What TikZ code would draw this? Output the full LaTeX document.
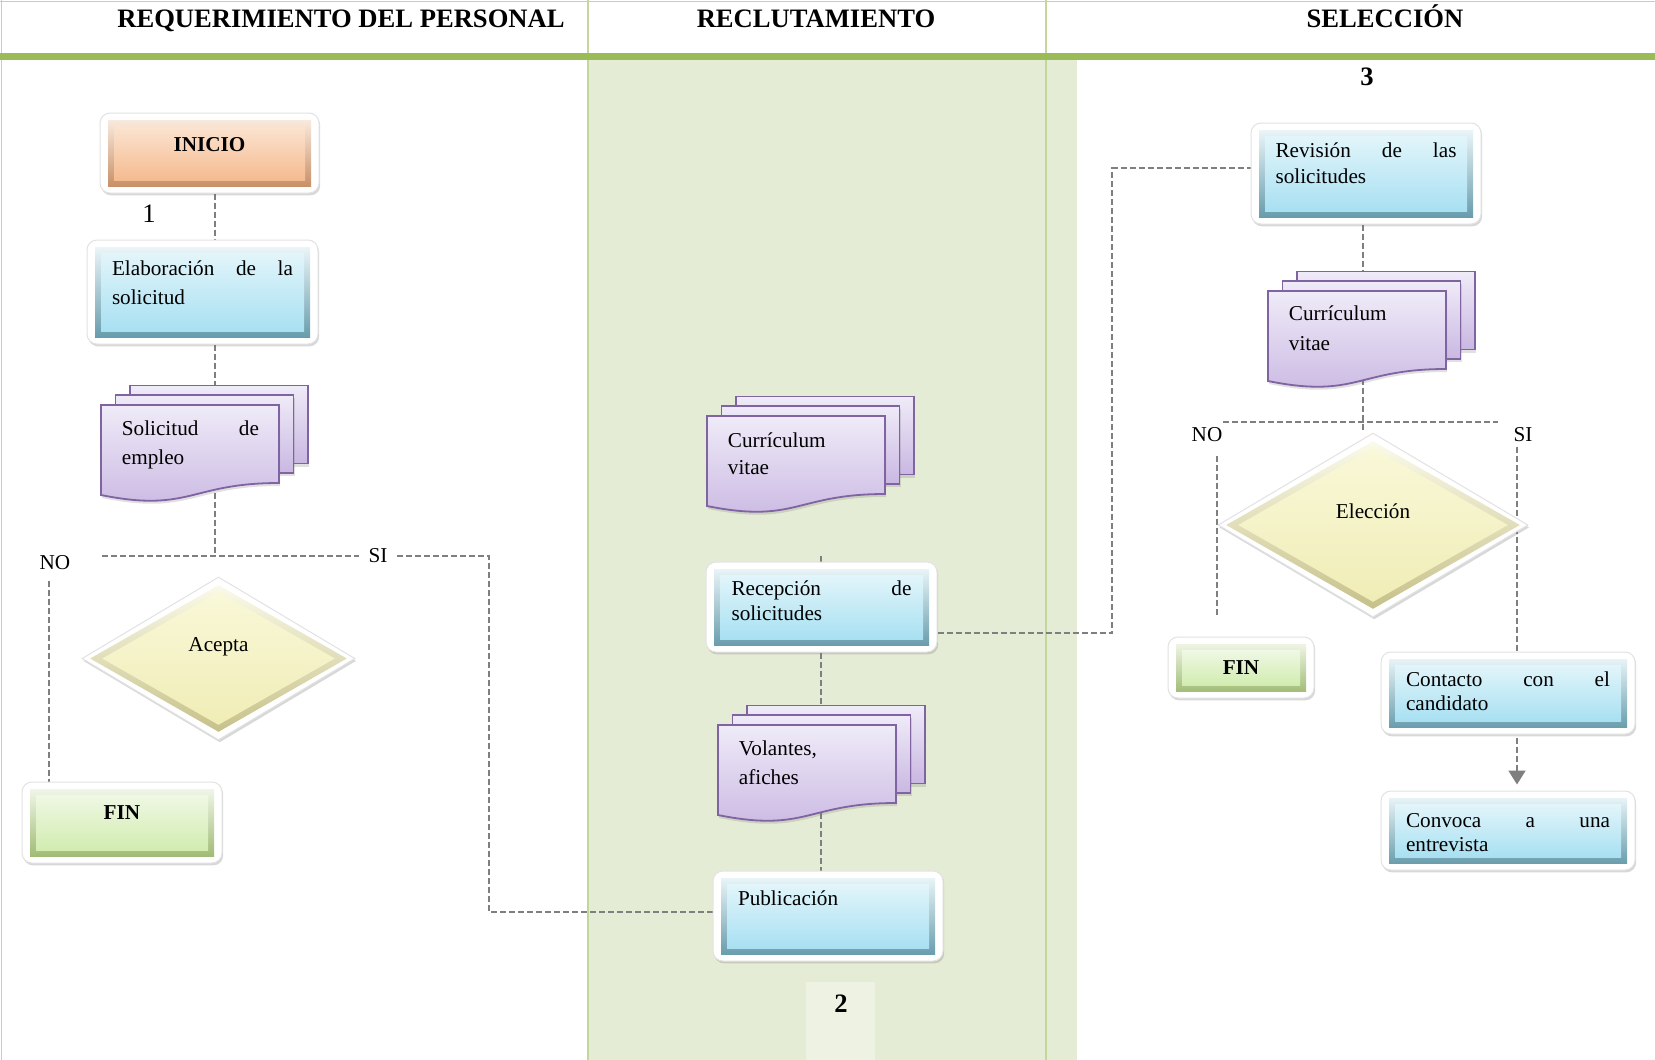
\documentclass[tikz,border=0pt]{standalone}
\usepackage{fontspec}
\setmainfont{Liberation Serif}
\usetikzlibrary{shapes.geometric,shadows,arrows.meta}

\definecolor{laneLine}{HTML}{C3D69B}
\definecolor{headBar}{HTML}{9BBB59}
\definecolor{laneFill}{HTML}{E5ECD6}
\definecolor{tagFill}{HTML}{EDF2E3}
\definecolor{linkGray}{HTML}{7F7F7F}
\definecolor{docLine}{HTML}{8064A2}
\definecolor{docTop}{HTML}{EFEBF8}
\definecolor{docBot}{HTML}{C9B7E2}
\definecolor{blueFaceT}{HTML}{E2F5FA}
\definecolor{blueFaceB}{HTML}{A8E0F2}
\definecolor{blueRimT}{HTML}{F4FCFE}
\definecolor{blueRimB}{HTML}{5E95A6}
\definecolor{orgFaceT}{HTML}{FBE3D0}
\definecolor{orgFaceB}{HTML}{F5BB90}
\definecolor{orgRimT}{HTML}{FEF3EA}
\definecolor{orgRimB}{HTML}{C2875C}
\definecolor{grnFaceT}{HTML}{EFF8E4}
\definecolor{grnFaceB}{HTML}{D2ECB0}
\definecolor{grnRimT}{HTML}{F9FCF3}
\definecolor{grnRimB}{HTML}{98B56A}
\definecolor{ylwFaceT}{HTML}{F9F8D8}
\definecolor{ylwFaceB}{HTML}{F0EDB6}
\definecolor{ylwRimT}{HTML}{FDFDEE}
\definecolor{ylwRimB}{HTML}{C4BE84}
\definecolor{frameEdge}{HTML}{E2E2E2}

\pgfdeclarelayer{lanes}
\pgfdeclarelayer{links}
\pgfsetlayers{lanes,links,main}

% text block inside a card: width, height, first baseline, line skip, text
\newcommand\cardtext[5]{\parbox[c][#2][t]{#1}{\fontsize{10.6pt}{#4}\selectfont\rule{0pt}{#3}#5}}

% stacked documents: name, x, y (front sheet top left), first baseline, line skip, text
\newcommand\multidoc[6]{%
  \begin{scope}[shift={(#2,#3)}]
    \draw[docsheet] (29,-19.5) rectangle (207,58.5);
    \draw[docsheet] (14.5,-9.75) rectangle (192.5,68.25);
    \draw[docsheet] (0,0) -- (178,0) -- (178,78) .. controls (89,78) and (89,108) .. (0,90) -- cycle;
    \coordinate (#1-top) at (89,-19.5);
    \node[anchor=north west, inner sep=0pt, minimum width=89pt, minimum height=39pt] (#1) at (0,0)
      {\parbox[c][39pt][t]{68.5pt}{\fontsize{10.6pt}{#5}\selectfont\rule{0pt}{#4}#6}};
  \end{scope}}

\begin{document}
\begin{tikzpicture}[x=0.5pt,y=-0.5pt,
  laneline/.style={draw=laneLine,line width=0.75pt},
  link/.style={draw=linkGray,line width=1pt,dash pattern=on 3pt off 1.5pt},
  tag/.style={inner sep=2pt,font=\fontsize{10.6pt}{12pt}\selectfont},
  stepnum/.style={inner sep=1pt,font=\fontsize{13.3pt}{15pt}\selectfont},
  boldtxt/.style={font=\bfseries\fontsize{10.6pt}{12pt}\selectfont},
  title/.style={anchor=base,inner sep=0pt,font=\bfseries\fontsize{13.3pt}{15pt}\selectfont},
  cardshadow/.style={drop shadow={shadow xshift=0.6pt,shadow yshift=-1.2pt,opacity=0.28,fill=black!55}},
  docsheet/.style={draw=docLine,line width=0.9pt,top color=docTop,bottom color=docBot,
    drop shadow={shadow xshift=0.5pt,shadow yshift=-1.5pt,opacity=0.2,fill=black!60}},
  card/.style n args={4}{rectangle,rounded corners=5pt,fill=white,draw=frameEdge,line width=0.5pt,
    inner sep=0pt,cardshadow,
    path picture={
      \shade[sharp corners,top color=#3,bottom color=#4]
        ([shift={(4pt,-3.5pt)}]path picture bounding box.north west) rectangle
        ([shift={(-4pt,3.5pt)}]path picture bounding box.south east);
      \shade[sharp corners,top color=#1,bottom color=#2]
        ([shift={(7pt,-6.5pt)}]path picture bounding box.north west) rectangle
        ([shift={(-7pt,6.5pt)}]path picture bounding box.south east);}},
  bluecard/.style={card={blueFaceT}{blueFaceB}{blueRimT}{blueRimB}},
  orangecard/.style={card={orgFaceT}{orgFaceB}{orgRimT}{orgRimB}},
  greencard/.style={card={grnFaceT}{grnFaceB}{grnRimT}{grnRimB}},
  decision/.style={diamond,fill=white,draw=frameEdge,line width=0.5pt,inner sep=0pt,cardshadow,
    font=\fontsize{10.6pt}{12pt}\selectfont,
    path picture={
      \shade[top color=ylwRimT,bottom color=ylwRimB]
        ([xshift=4pt]path picture bounding box.west) -- ([yshift=-4pt]path picture bounding box.north) --
        ([xshift=-4pt]path picture bounding box.east) -- ([yshift=4pt]path picture bounding box.south) -- cycle;
      \shade[top color=ylwFaceT,bottom color=ylwFaceB]
        ([xshift=10pt]path picture bounding box.west) -- ([yshift=-7.5pt]path picture bounding box.north) --
        ([xshift=-10pt]path picture bounding box.east) -- ([yshift=7.5pt]path picture bounding box.south) -- cycle;}}
]
\useasboundingbox (0,0) rectangle (1655,1060);

% swimlanes and header
\begin{pgfonlayer}{lanes}
  \fill[white] (0,0) rectangle (1655,1060);
  \fill[laneFill] (588,59.5) rectangle (1077,1060);
  \fill[tagFill] (806,982) rectangle (875,1060);
  \draw[laneline] (0,1.5) -- (1655,1.5);
  \draw[laneline] (1.5,0) -- (1.5,1060);
  \draw[laneline] (588,0) -- (588,1060);
  \draw[laneline] (1046,0) -- (1046,1060);
  \fill[headBar] (0,52.5) rectangle (1655,59.5);
\end{pgfonlayer}

\node[title] (hReq) at (341,27) {REQUERIMIENTO DEL PERSONAL};
\node[title] (hRec) at (816,27) {RECLUTAMIENTO};
\node[title] (hSel) at (1385,27) {SELECCIÓN};

% staff requirement
\node[orangecard,boldtxt,minimum width=109.5pt,minimum height=40pt] (inicio) at (209.5,153) {\raisebox{9pt}{INICIO}};
\node[stepnum] (n1) at (149,214) {1};
\node[bluecard,minimum width=115.5pt,minimum height=52pt] (elab) at (202.5,292)
  {\cardtext{90.5pt}{52pt}{17.5pt}{14.5pt}{Elaboración de la\linebreak solicitud}};
\multidoc{solic}{101}{405}{15pt}{14.5pt}{Solicitud de\linebreak empleo}
\node[decision,minimum width=136.5pt,minimum height=81.5pt] (acepta) at (218.5,658.5) {\raisebox{14.5pt}{Acepta}};
\node[greencard,boldtxt,minimum width=100pt,minimum height=40.5pt] (finL) at (122,822.5) {\raisebox{9.5pt}{FIN}};
\node[tag] (noL) at (55,563) {NO};
\node[tag,inner sep=4.8pt] (siL) at (378,556) {SI};

% recruitment
\multidoc{cvmid}{707}{416}{15.5pt}{13.5pt}{Currículum\\vitae}
\node[bluecard,minimum width=115.5pt,minimum height=45pt] (rec) at (821.5,607)
  {\cardtext{90pt}{45pt}{16.5pt}{12.5pt}{Recepción de\linebreak solicitudes}};
\multidoc{volan}{718}{725}{15pt}{14.5pt}{Volantes,\\afiches}
\node[bluecard,minimum width=115pt,minimum height=45pt] (pub) at (828,916)
  {\cardtext{90pt}{45pt}{17pt}{12.5pt}{Publicación}};
\node[stepnum,font=\bfseries\fontsize{13.3pt}{15pt}\selectfont] (n2) at (841,1004) {2};

% selection
\node[stepnum,font=\bfseries\fontsize{13.3pt}{15pt}\selectfont] (n3) at (1367,77) {3};
\node[bluecard,minimum width=115pt,minimum height=50.5pt] (rev) at (1366,173.5)
  {\cardtext{90.5pt}{50.5pt}{17pt}{13pt}{Revisión de las\linebreak solicitudes}};
\multidoc{cvright}{1268}{291}{14.5pt}{15pt}{Currículum\\vitae}
\node[decision,minimum width=155pt,minimum height=92pt] (elec) at (1373,525) {\raisebox{14pt}{Elección}};
\node[tag] (noR) at (1207,435) {NO};
\node[tag] (siR) at (1523,435) {SI};
\node[greencard,boldtxt,minimum width=73pt,minimum height=30.5pt] (finR) at (1241,667.5) {FIN};
\node[bluecard,minimum width=127pt,minimum height=41pt] (cont) at (1508,693)
  {\cardtext{102pt}{41pt}{17pt}{12pt}{Contacto con el\linebreak candidato}};
\node[bluecard,minimum width=127pt,minimum height=39.5pt] (conv) at (1508,830.5)
  {\cardtext{102pt}{39.5pt}{18pt}{12pt}{Convoca a una\linebreak entrevista}};

% connectors
\begin{pgfonlayer}{links}
  \coordinate (xl) at (215,0);
  \draw[link] (inicio.south -| xl) -- (elab.north -| xl);
  \draw[link] (elab.south -| xl) -- (solic-top -| xl);
  \coordinate (acL) at (102,556);
  \draw[link] (solic.south -| xl) -- (xl |- acL);
  \draw[link] (acL) -- (siL.west);
  \coordinate (xsi) at (489,0);
  \coordinate (pubin) at ([yshift=2pt]pub.west);
  \draw[link] (siL.east) -| (xsi |- pubin) -- (pubin);
  \coordinate (xno) at (48.5,0);
  \draw[link,shorten <=3pt] (noL.south -| xno) -- (finL.north -| xno);

  \coordinate (xm) at (821,0);
  \draw[link] (rec.north -| xm) -- ++(0,-8);
  \draw[link] (rec.south -| xm) -- (volan-top -| xm);
  \draw[link] (volan.south -| xm) -- (pub.north -| xm);
  \coordinate (recout) at ([yshift=-13pt]rec.east);
  \coordinate (revin) at ([yshift=2.75pt]rev.west);
  \coordinate (xr) at (1112,0);
  \draw[link] (recout) -| (xr |- revin) -- (revin);

  \coordinate (xc) at (1363,0);
  \draw[link] (rev.south -| xc) -- (cvright-top -| xc);
  \draw[link] (cvright.south -| xc) -- (elec.north -| xc);
  \coordinate (ebL) at (1223,422);
  \coordinate (ebR) at (1498,422);
  \draw[link] (ebL) -- (ebR);
  \coordinate (xn) at (1217,0);
  \draw[link,shorten <=4.5pt,shorten >=9.5pt] (noR.south -| xn) -- (finR.north -| xn);
  \coordinate (xs) at (1517,0);
  \draw[link] (siR.south -| xs) -- (cont.north -| xs);
  \draw[link,shorten <=1.5pt,shorten >=3pt,-{Triangle[length=7pt,width=8.5pt]}] (cont.south -| xs) -- (conv.north -| xs);
\end{pgfonlayer}
\end{tikzpicture}
\end{document}
